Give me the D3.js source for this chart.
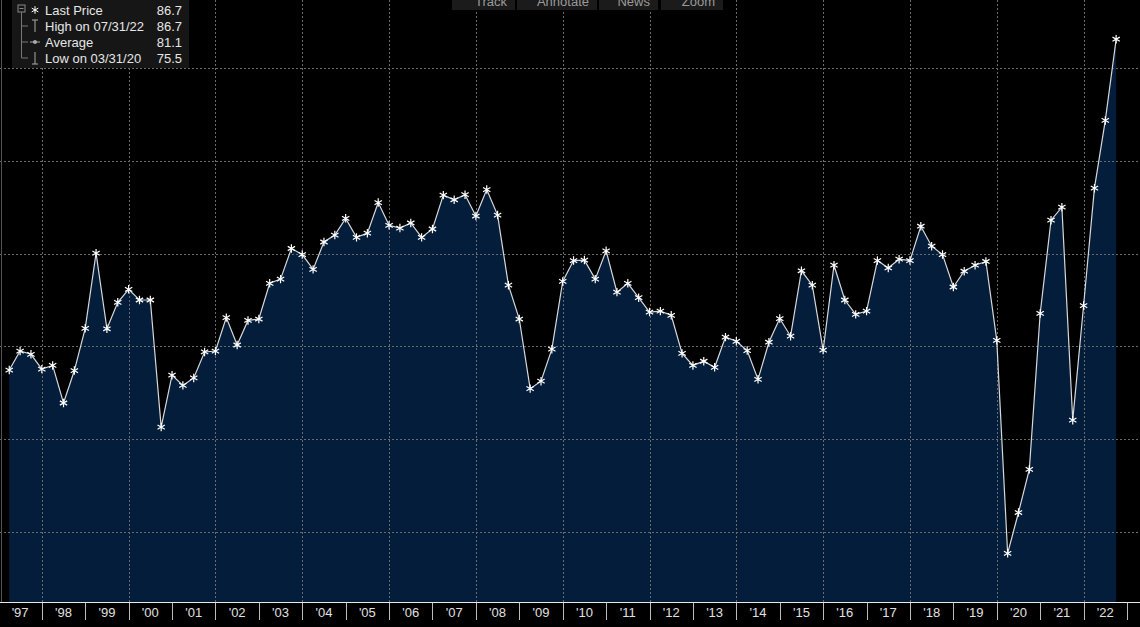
<!DOCTYPE html>
<html><head><meta charset="utf-8">
<script src="https://cdn.jsdelivr.net/npm/d3@7"></script>
<style>html,body{margin:0;padding:0;background:#000;}svg{display:block;}</style>
</head><body>
<script>
const values = [79.49,79.90,79.83,79.51,79.59,78.78,79.48,80.39,82.01,80.38,80.95,81.23,81.00,81.00,78.26,79.38,79.16,79.32,79.88,79.90,80.62,80.03,80.56,80.59,81.36,81.45,82.11,81.98,81.66,82.25,82.40,82.76,82.35,82.44,83.10,82.61,82.55,82.66,82.35,82.53,83.26,83.16,83.27,82.81,83.38,82.83,81.32,80.59,79.09,79.25,79.94,81.40,81.85,81.86,81.45,82.06,81.17,81.36,81.05,80.74,80.76,80.67,79.85,79.59,79.68,79.55,80.20,80.11,79.91,79.29,80.09,80.60,80.22,81.63,81.32,79.92,81.75,81.00,80.69,80.76,81.85,81.69,81.88,81.85,82.59,82.16,81.98,81.28,81.62,81.75,81.83,80.13,75.54,76.42,77.35,80.71,82.72,83.00,78.41,80.88,83.41,84.87,86.62];
const startYear = 1997;
const years = d3.range(1997, 2023);
const yGrid = [76,78,80,82,84,86];
const legendLabels = ["Last Price","High on 07/31/22","Average","Low on 03/31/20"];
const legendValues = ["86.7","86.7","81.1","75.5"];
const toolbar = ["Track","Annotate","News","Zoom"];

const W=1140,H=627;
const data = values.map((v,i)=>({t: startYear + (i+1)/4, v}));
const x = d3.scaleLinear().domain([1997,2023]).range([-1.6,1127]);
const y = d3.scaleLinear().domain([76,86]).range([532,68]);
const svg = d3.select("body").append("svg").attr("width",W).attr("height",H);
svg.append("rect").attr("width",W).attr("height",H).attr("fill","#000");

svg.append("path").datum(data).attr("fill","#031d3b")
  .attr("d", d3.area().x(d=>x(d.t)).y0(602).y1(d=>y(d.v)));

const g = svg.append("g").attr("stroke","#6a6a6a").attr("stroke-dasharray","2,2").attr("stroke-width",1);
yGrid.forEach(v=>g.append("line").attr("x1",0).attr("x2",W).attr("y1",Math.round(y(v))+.5).attr("y2",Math.round(y(v))+.5));
years.filter(yr=>yr%2===0).forEach(yr=>g.append("line").attr("x1",Math.round(x(yr))+.5).attr("x2",Math.round(x(yr))+.5).attr("y1",0).attr("y2",602));
svg.append("line").attr("x1",1.5).attr("x2",1.5).attr("y1",0).attr("y2",602).attr("stroke","#555");

svg.append("path").datum(data).attr("fill","none").attr("stroke","#d8d8d8").attr("stroke-width",1.2)
  .attr("d", d3.line().x(d=>x(d.t)).y(d=>y(d.v)));
const sym = d3.symbol().type(d3.symbolAsterisk).size(50);
svg.append("g").selectAll("path").data(data).join("path")
  .attr("transform",d=>`translate(${x(d.t)},${y(d.v)})`).attr("d",sym())
  .attr("stroke","#fff").attr("stroke-width",1.2).attr("fill","none");

svg.append("line").attr("x1",0).attr("x2",W).attr("y1",602.5).attr("y2",602.5).attr("stroke","#e8e8e8");
const ax = svg.append("g");
years.concat([2023]).forEach(yr=>ax.append("line").attr("x1",Math.round(x(yr))+.5).attr("x2",Math.round(x(yr))+.5).attr("y1",603).attr("y2",620).attr("stroke","#bbb"));
years.forEach(yr=>ax.append("text").attr("x",x(yr+0.5)).attr("y",617).attr("text-anchor","middle")
  .attr("fill","#e0e0e0").attr("font-family","Liberation Sans, Arial, sans-serif").attr("font-size",13)
  .text("'"+String(yr%100).padStart(2,"0")));

const tbX=[452,517,599,661], tbW=[63,80,59,62];
toolbar.forEach((t,i)=>{
  svg.append("rect").attr("x",tbX[i]).attr("y",-5).attr("width",tbW[i]).attr("height",15).attr("fill","#1b1b1b");
  svg.append("text").attr("x",tbX[i]+tbW[i]-8).attr("y",6).attr("text-anchor","end").attr("fill","#9a9a9a")
    .attr("font-family","Liberation Sans, Arial, sans-serif").attr("font-size",13).text(t);
});

svg.append("rect").attr("x",12).attr("y",0).attr("width",177).attr("height",68).attr("fill","#161616");
const lf = "Liberation Sans, Arial, sans-serif";
legendLabels.forEach((t,i)=>{
  const cy=10+i*16;
  svg.append("text").attr("x",45).attr("y",cy+5).attr("fill","#e6e6e6").attr("font-family",lf).attr("font-size",13).text(t);
  svg.append("text").attr("x",182).attr("y",cy+5).attr("text-anchor","end").attr("fill","#e6e6e6").attr("font-family",lf).attr("font-size",13).text(legendValues[i]);
});
svg.append("rect").attr("x",18).attr("y",5).attr("width",7).attr("height",7).attr("fill","none").attr("stroke","#888");
svg.append("line").attr("x1",19.5).attr("x2",23.5).attr("y1",8.5).attr("y2",8.5).attr("stroke","#888");
svg.append("path").attr("d","M21.5,12 V58 H28 M21.5,26 H28 M21.5,42 H28").attr("fill","none").attr("stroke","#777");
svg.append("path").attr("transform","translate(35,10)").attr("d",d3.symbol().type(d3.symbolAsterisk).size(40)()).attr("stroke","#fff").attr("fill","none");
svg.append("path").attr("d","M32,20 H38 M35,20 V32").attr("stroke","#aaa").attr("fill","none");
svg.append("path").attr("d","M30,42 H40").attr("stroke","#aaa");
svg.append("circle").attr("cx",35).attr("cy",42).attr("r",2).attr("fill","#aaa");
svg.append("path").attr("d","M32,64 H38 M35,52 V64").attr("stroke","#aaa").attr("fill","none");
</script>
</body></html>
